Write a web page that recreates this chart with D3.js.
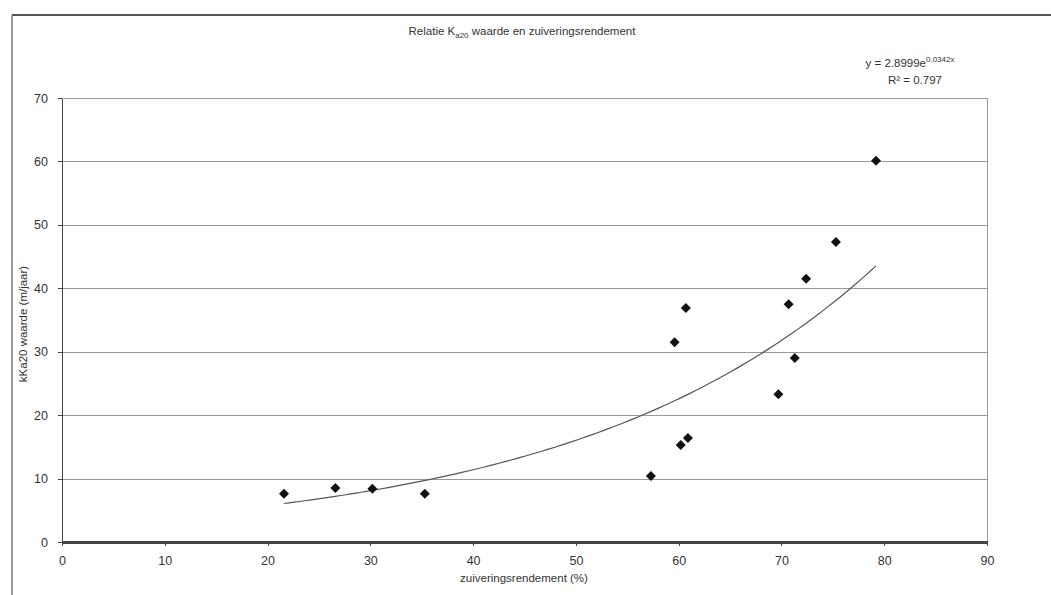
<!DOCTYPE html>
<meta charset="utf-8">
<style>
body { margin: 0; background: #fff; }
.axis text { font: 12.5px "Liberation Sans", Arial, sans-serif; fill: #333; }
.axis path, .axis line { fill: none; stroke: #444; shape-rendering: crispEdges; }
.grid line { stroke: #999; shape-rendering: crispEdges; }
.grid path { display: none; }
.label { font: 11.5px "Liberation Sans", Arial, sans-serif; fill: #333; }
</style>
<body>
<script src="https://d3js.org/d3.v7.min.js"></script>
<script>
// measured points (zuiveringsrendement %, kKa20 m/jaar)
var rendement = [21.6, 26.6, 30.2, 35.3, 57.3, 59.6, 60.7, 60.2, 60.9, 69.7, 70.7, 71.3, 72.4, 75.3, 79.2];
var kwaarde   = [7.6, 8.5, 8.4, 7.6, 10.4, 31.5, 36.9, 15.3, 16.4, 23.3, 37.5, 29.0, 41.5, 47.3, 60.1];
var xTicks = [0, 10, 20, 30, 40, 50, 60, 70, 80, 90];
var yTicks = [0, 10, 20, 30, 40, 50, 60, 70];
// exponential trendline from the chart: y = 2.8999 e^(0.0342x)
var trendA = 2.8999, trendB = 0.0342;

var W = 1051, H = 595;
var margin = {top: 98, right: 64, bottom: 53, left: 62},
    width = W - margin.left - margin.right,
    height = H - margin.top - margin.bottom;

var root = d3.select("body").append("svg")
    .attr("width", W)
    .attr("height", H);

// outer frame (top and left edge of the scanned chart)
root.append("line").attr("x1", 12).attr("x2", W).attr("y1", 15).attr("y2", 15)
    .attr("stroke", "#555").attr("stroke-width", 2);
root.append("line").attr("x1", 12).attr("x2", 12).attr("y1", 15).attr("y2", H)
    .attr("stroke", "#777").attr("stroke-width", 1.5);

var svg = root.append("g")
    .attr("transform", "translate(" + margin.left + "," + margin.top + ")");

var x = d3.scaleLinear().domain([0, 90]).range([0, width]);
var y = d3.scaleLinear().domain([0, 70]).range([height, 0]);

// plot area border
svg.append("rect")
    .attr("width", width).attr("height", height)
    .attr("fill", "none").attr("stroke", "#999").attr("shape-rendering", "crispEdges");

// gridlines
svg.append("g").attr("class", "grid")
    .call(d3.axisLeft(y).tickValues(yTicks.slice(1)).tickSize(-width).tickFormat(""));

svg.append("g").attr("class", "y axis")
    .call(d3.axisLeft(y).tickValues(yTicks).tickSize(4).tickSizeOuter(0).tickPadding(10));

var xa = svg.append("g").attr("class", "x axis")
    .attr("transform", "translate(0," + height + ")")
    .call(d3.axisBottom(x).tickValues(xTicks).tickSize(4).tickSizeOuter(0).tickPadding(10));
xa.select(".domain").attr("stroke", "#333").attr("stroke-width", 3);

// trendline over the range of the data
var xr = d3.extent(rendement);
var trend = d3.range(xr[0], xr[1] + 0.01, 0.5).concat([xr[1]]).map(function(v) {
  return [v, trendA * Math.exp(trendB * v)];
});
svg.append("path")
    .datum(trend)
    .attr("fill", "none")
    .attr("stroke", "#555")
    .attr("stroke-width", 1.2)
    .attr("d", d3.line().x(function(d) { return x(d[0]); }).y(function(d) { return y(d[1]); }));

// diamond markers
var pts = rendement.map(function(v, i) { return {x: v, y: kwaarde[i]}; });
svg.selectAll(".pt")
    .data(pts)
  .enter().append("path")
    .attr("class", "pt")
    .attr("d", d3.symbol().type(d3.symbolSquare).size(50))
    .attr("transform", function(d) { return "translate(" + x(d.x) + "," + y(d.y) + ") rotate(45)"; })
    .attr("fill", "#111");

// title
var title = root.append("text").attr("class", "label")
    .attr("x", 522).attr("y", 35).attr("text-anchor", "middle");
title.append("tspan").text("Relatie K");
title.append("tspan").attr("dy", 3).attr("font-size", "8px").text("a20");
title.append("tspan").attr("dy", -3).text(" waarde en zuiveringsrendement");

// equation
var eq = root.append("text").attr("class", "label")
    .attr("x", 910).attr("y", 67).attr("text-anchor", "middle");
eq.append("tspan").text("y = 2.8999e");
eq.append("tspan").attr("dy", -5).attr("font-size", "8px").text("0.0342x");
root.append("text").attr("class", "label")
    .attr("x", 915).attr("y", 84).attr("text-anchor", "middle").text("R² = 0.797");

// axis titles
root.append("text").attr("class", "label")
    .attr("transform", "translate(27,324) rotate(-90)")
    .attr("text-anchor", "middle").text("kKa20 waarde (m/jaar)");
root.append("text").attr("class", "label")
    .attr("x", 524).attr("y", 582).attr("text-anchor", "middle").text("zuiveringsrendement (%)");
</script>
</body>
